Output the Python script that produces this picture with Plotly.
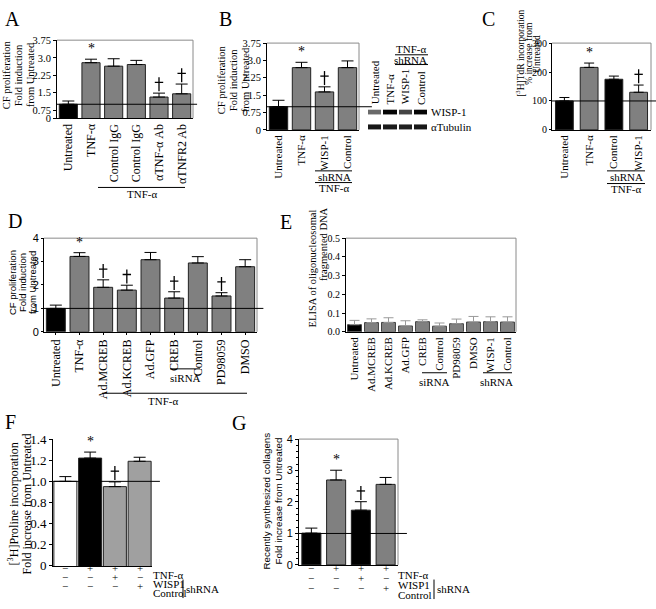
import plotly.graph_objects as go

W, H = 656, 609
SERIF = "Liberation Serif, Times New Roman, serif"
SANS = "Liberation Sans, Arial, sans-serif"
BLK, GRY, LGRY, WHT = "#000000", "#808080", "#a0a0a0", "#ffffff"

# ---------------- data ----------------
A_cats = ["Untreated", "TNF-α", "Control IgG", "Control IgG", "αTNF-α Ab", "αTNFR2 Ab"]
A_vals = [1.0, 2.79, 2.64, 2.71, 1.31, 1.45]
A_errs = [0.14, 0.15, 0.32, 0.18, 0.17, 0.42]
A_marks = ["", "*", "", "", "†", "†"]
A_tickvals = [0.40, 0.75, 1.5, 2.25, 3.0, 3.75]
A_ticktext = ["0", "0.75", "1.5", "2.25", "3.0", "3.75"]

B_cats = ["Untreated", "TNF-α", "WISP-1", "Control"]
B_vals = [1.0, 2.69, 1.64, 2.69]
B_errs = [0.28, 0.23, 0.22, 0.29]
B_marks = ["", "*", "†", ""]
B_tickvals = [0, 0.75, 1.5, 2.25, 3.0, 3.75]
B_ticktext = ["0", "0.75", "1.5", "2.25", "3.0", "3.75"]

blot_lanes = ["Untreated", "TNF-α", "WISP-1", "Control"]
blot_rows = ["WISP-1", "αTubulin"]
blot_wisp = [0.55, 1.0, 0.72, 1.0]
blot_tub = [0.92, 0.9, 0.88, 0.92]

C_cats = ["Untreated", "TNF-α", "Control", "WISP-1"]
C_vals = [100, 216, 175, 130]
C_errs = [12, 15, 11, 25]
C_marks = ["", "*", "", "†"]
C_tickvals = [0, 100, 200, 300]

D_cats = ["Untreated", "TNF-α", "Ad.MCREB", "Ad.KCREB", "Ad.GFP", "CREB", "Control", "PD98059", "DMSO"]
D_vals = [1.0, 3.22, 1.90, 1.78, 3.08, 1.44, 2.94, 1.53, 2.78]
D_errs = [0.14, 0.16, 0.32, 0.21, 0.31, 0.27, 0.27, 0.14, 0.30]
D_marks = ["", "*", "†", "†", "", "†", "", "†", ""]
D_tickvals = [0, 1, 2, 3, 4]

E_cats = ["Untreated", "Ad.MCREB", "Ad.KCREB", "Ad.GFP", "CREB", "Control", "PD98059", "DMSO", "WISP-1", "Control"]
E_vals = [0.038, 0.049, 0.050, 0.031, 0.054, 0.030, 0.043, 0.052, 0.054, 0.052]
E_errs = [0.023, 0.020, 0.025, 0.028, 0.010, 0.017, 0.025, 0.030, 0.026, 0.028]
E_tickvals = [0.0, 0.1, 0.2, 0.3, 0.4, 0.5]
E_ticktext = ["0.0", "0.1", "0.2", "0.3", "0.4", "0.5"]

F_vals = [1.0, 1.22, 0.95, 1.19]
F_errs = [0.045, 0.057, 0.045, 0.038]
F_marks = ["", "*", "†", ""]
F_tickvals = [0.2, 0.4, 0.6, 0.8, 1.0, 1.2, 1.4]
F_ticktext = ["0", "0.2", "0.4", "0.8", "1.0", "1.2", "1.4"]

G_vals = [1.01, 2.70, 1.74, 2.56]
G_errs = [0.16, 0.31, 0.27, 0.22]
G_marks = ["", "*", "†", ""]
G_tickvals = [0, 1, 2, 3, 4]

table_rows = ["TNF-α", "WISP1", "Control"]
table_signs = [["−", "+", "+", "+"], ["−", "−", "+", "−"], ["−", "−", "−", "+"]]

# ---------------- helpers ----------------
fig = go.Figure()
axes = {}
shapes = []
annotations = []


def pxx(x):
    return x / W


def pyy(y):
    return 1 - y / H


def text(x, y, s, size, family=SERIF, angle=0, xanchor="center", yanchor="middle"):
    annotations.append(dict(x=pxx(x), y=pyy(y), xref="paper", yref="paper", text=s, showarrow=False,
                            font=dict(size=size, family=family, color="black"), textangle=angle,
                            xanchor=xanchor, yanchor=yanchor, borderpad=0))


def line(x0, x1, y0, y1=None, color="black", width=1):
    shapes.append(dict(type="line", xref="paper", yref="paper", x0=pxx(x0), x1=pxx(x1),
                       y0=pyy(y0), y1=pyy(y0 if y1 is None else y1), line=dict(color=color, width=width)))


def bar_panel(i, cats, vals, errs, marks, colors, xpx, ypx, yrange, tickvals, ticktext,
              tickfont, catfont, frame=True, ref=1.0, ref_ext=1.03, errcolor="black",
              barwidth=0.8, cap=5, xticklen=0, minor=None, outline="#222222", yticklen=3):
    xn = "x" if i == 1 else f"x{i}"
    yn = "y" if i == 1 else f"y{i}"
    n = len(vals)
    xs = list(range(n))
    fig.add_trace(go.Bar(x=xs, y=vals, width=barwidth, xaxis=xn, yaxis=yn,
                         marker=dict(color=colors, line=dict(color=outline, width=1)),
                         error_y=dict(type="data", array=errs, arrayminus=[0] * n, symmetric=False,
                                      color=errcolor, thickness=1, width=cap),
                         showlegend=False, hoverinfo="skip"))
    xa = dict(domain=[pxx(xpx[0]), pxx(xpx[1])], anchor=yn, range=[-0.5, n - 0.5],
              tickmode="array", tickvals=xs, ticktext=cats if cats else [""] * n,
              showticklabels=bool(cats), tickangle=-90, tickfont=catfont,
              showline=True, linecolor="black", linewidth=1, showgrid=False, zeroline=False,
              ticks="outside" if xticklen else "", ticklen=xticklen, tickcolor="black")
    ya = dict(domain=[pyy(ypx[1]), pyy(ypx[0])], anchor=xn, range=yrange, tickmode="array",
              tickvals=tickvals, ticktext=ticktext, tickfont=tickfont, ticks="outside",
              ticklen=yticklen, tickcolor="black", showline=True, linecolor="black", linewidth=1,
              showgrid=False, zeroline=False)
    if minor:
        ya["minor"] = minor
    axes["xaxis" if i == 1 else f"xaxis{i}"] = xa
    axes["yaxis" if i == 1 else f"yaxis{i}"] = ya
    if frame:
        shapes.append(dict(type="line", xref=f"{xn} domain", yref=f"{yn} domain", x0=0, x1=1, y0=1, y1=1,
                           line=dict(color="#8a8a8a", width=1)))
        shapes.append(dict(type="line", xref=f"{xn} domain", yref=f"{yn} domain", x0=1, x1=1, y0=0, y1=1,
                           line=dict(color="#8a8a8a", width=1)))
    if ref is not None:
        shapes.append(dict(type="line", xref=f"{xn} domain", yref=yn, x0=0, x1=ref_ext, y0=ref, y1=ref,
                           line=dict(color="black", width=1)))
    if marks:
        # data units per pixel on this y axis
        dpp = (yrange[1] - yrange[0]) / (ypx[1] - ypx[0])
        dag_x = [j for j, m in enumerate(marks) if m == "†"]
        dag_top = [vals[j] + errs[j] for j in dag_x]
        if dag_x:
            fig.add_trace(go.Scatter(x=dag_x, y=[t + 9 * dpp for t in dag_top], mode="markers",
                                     xaxis=xn, yaxis=yn, showlegend=False, hoverinfo="skip",
                                     marker=dict(symbol="line-ns", size=10,
                                                 line=dict(color="black", width=1.3))))
            fig.add_trace(go.Scatter(x=dag_x, y=[t + 11 * dpp for t in dag_top], mode="markers",
                                     xaxis=xn, yaxis=yn, showlegend=False, hoverinfo="skip",
                                     marker=dict(symbol="line-ew", size=6,
                                                 line=dict(color="black", width=1.3))))
        for j, m in enumerate(marks):
            if m == "*":
                annotations.append(dict(x=j, y=vals[j] + errs[j], xref=xn, yref=yn, text=m,
                                        showarrow=False, yanchor="bottom", yshift=2, borderpad=0,
                                        font=dict(size=14, family=SERIF, color="black")))


def ytitle(lines, xs, y, size, family=SERIF):
    for s, x in zip(lines, xs):
        text(x, y, s, size, family=family, angle=-90)


tick105 = dict(family=SERIF, size=10.5, color="black")
tick10 = dict(family=SERIF, size=10, color="black")
serif_cat = dict(family=SERIF, size=12, color="black")
serif_cat11 = dict(family=SERIF, size=11, color="black")
sans_tick = dict(family=SANS, size=11, color="black")

# ---------------- Panel A ----------------
bar_panel(1, A_cats, A_vals, A_errs, A_marks, [BLK] + [GRY] * 5, (57, 193), (34, 114),
          [0.40, 3.76], A_tickvals, A_ticktext, tick105, serif_cat, barwidth=0.8, cap=6)
text(12, 12, "A", 20)
ytitle(["CF proliferation", "Fold induction", "from Untreated"], [6, 18, 30], 70, 10.5)
line(98, 185, 185)
text(142, 192, "TNF-α", 11)

# ---------------- Panel B ----------------
bar_panel(2, B_cats, B_vals, B_errs, B_marks, [BLK] + [GRY] * 3, (267, 359), (37, 126),
          [0, 3.75], B_tickvals, B_ticktext, tick105, serif_cat11, ref_ext=1.14, barwidth=0.8, cap=6)
text(226, 12, "B", 20)
ytitle(["CF proliferation", "Fold induction", "from Untreated"], [221, 233, 245], 75, 10.5)
line(315, 352, 168)
text(334, 174, "shRNA", 11)
line(315, 352, 180)
text(334, 186, "TNF-α", 11)

# western blot
fig.add_trace(go.Heatmap(x=list(range(len(blot_lanes))), y=[0, 1, 2, 3],
                         z=[blot_tub, [None] * 4, [None] * 4, blot_wisp],
                         colorscale=[[0, "#e6e6e6"], [1, "#050505"]], zmin=0, zmax=1,
                         showscale=False, xgap=2, xaxis="x8", yaxis="y8", hoverinfo="skip"))
axes["xaxis8"] = dict(domain=[pxx(367), pxx(428)], anchor="y8", range=[-0.5, 3.5], visible=False)
axes["yaxis8"] = dict(domain=[pyy(126), pyy(105)], anchor="x8", range=[-0.5, 3.5], visible=False)
for j, lane in enumerate(blot_lanes):
    annotations.append(dict(x=j, y=pyy(101), xref="x8", yref="paper", text=lane, showarrow=False,
                            textangle=-90, xanchor="center", yanchor="bottom", borderpad=0,
                            font=dict(size=11, family=SERIF, color="black")))
text(430, 108, blot_rows[0], 11, xanchor="left")
text(430, 123, blot_rows[1], 11, xanchor="left")
text(411, 43, "TNF-α", 11)
line(395, 428, 49)
text(411, 54, "shRNA", 11)
line(395, 428, 59)

# ---------------- Panel C ----------------
bar_panel(3, C_cats, C_vals, C_errs, C_marks, [BLK, GRY, BLK, GRY], (552, 651), (37, 126),
          [0, 300], C_tickvals, [str(v) for v in C_tickvals], tick10, serif_cat11,
          ref=100, ref_ext=1.06, barwidth=0.72, cap=5, yticklen=2)
text(488, 12, "C", 20)
ytitle(["[<sup>3</sup>H]TdR incorporation", "% increase from", "Untreated"], [520, 529, 537], 48, 9.5)
line(607, 645, 168)
text(626, 174, "shRNA", 11)
line(607, 645, 181)
text(626, 187, "TNF-α", 11)

# ---------------- Panel D ----------------
bar_panel(4, D_cats, D_vals, D_errs, D_marks, [BLK] + [GRY] * 8, (44, 257), (237, 333),
          [0, 4], D_tickvals, [str(v) for v in D_tickvals], sans_tick, serif_cat,
          barwidth=0.8, cap=6, xticklen=2, yticklen=2)
text(15, 219, "D", 20)
ytitle(["CF proliferation", "Fold induction", "from Untreated"], [12, 22, 32], 283, 9.5, family=SANS)
line(170, 200, 371)
text(186, 380, "siRNA", 11)
line(102, 247, 396)
text(163, 404, "TNF-α", 11)

# ---------------- Panel E ----------------
bar_panel(5, E_cats, E_vals, E_errs, None, [BLK] + [GRY] * 9, (346, 516), (237, 333),
          [0, 0.5], E_tickvals, E_ticktext, tick10,
          serif_cat11, ref=None, errcolor="#9a9a9a",
          barwidth=0.82, cap=5, outline="#444444")
text(286, 220, "E", 20)
text(312, 268, "ELISA of oligonucleosomal", 10.5, angle=-90)
text(323, 243, "fragmented DNA", 10.5, angle=-90)
line(422, 447, 375)
text(434, 384, "siRNA", 11)
line(483, 512, 375)
text(497, 384, "shRNA", 11)

# ---------------- Panel F ----------------
bar_panel(6, None, F_vals, F_errs, F_marks, [WHT, BLK, LGRY, LGRY], (53, 152), (443, 573),
          [0.2, 1.4], F_tickvals, F_ticktext, dict(family=SERIF, size=13, color="black"), serif_cat,
          frame=False, ref_ext=1.08, barwidth=0.93, cap=6)
text(10, 425, "F", 20)
ytitle(["[<sup>3</sup>H]Proline incorporation", "Fold increase from Untreated"], [13, 27], 510, 12)
for r, (lab, signs) in enumerate(zip(table_rows, table_signs)):
    yrow = [582, 592, 601][r]
    for j, s in enumerate(signs):
        annotations.append(dict(x=j, y=pyy(yrow), xref="x6", yref="paper", text=s, showarrow=False,
                                borderpad=0, font=dict(size=11, family=SERIF, color="black")))
    text(152, yrow, lab, 11, xanchor="left")
line(183, 183, 587, 606)
text(185, 597, "shRNA", 11, xanchor="left")

# ---------------- Panel G ----------------
bar_panel(7, None, G_vals, G_errs, G_marks, [BLK, GRY, BLK, GRY], (299, 398), (443, 572),
          [0, 4], G_tickvals, [str(v) for v in G_tickvals], sans_tick, serif_cat,
          ref_ext=1.09, barwidth=0.77, cap=6,
          minor=dict(ticks="outside", ticklen=2, dtick=0.2, tickcolor="black"))
text(239, 426, "G", 20)
ytitle(["Recently synthesized collagens", "Fold increase from Untreated"], [267, 279], 507, 9.8,
       family=SANS)
for r, (lab, signs) in enumerate(zip(table_rows, table_signs)):
    yrow = [582, 593, 603][r]
    for j, s in enumerate(signs):
        annotations.append(dict(x=j, y=pyy(yrow), xref="x7", yref="paper", text=s, showarrow=False,
                                borderpad=0, font=dict(size=11, family=SERIF, color="black")))
    text(397, yrow, lab, 11, xanchor="left")
line(434, 434, 587, 607)
text(436, 597, "shRNA", 11, xanchor="left")

fig.update_layout(width=W, height=H, margin=dict(l=0, r=0, t=0, b=0), plot_bgcolor="white",
                  paper_bgcolor="white", showlegend=False, shapes=shapes, annotations=annotations,
                  **axes)
fig.write_html("out.html", config={"displayModeBar": False, "staticPlot": True},
               post_script="document.body.style.margin='0px';document.body.style.overflow='hidden';")
